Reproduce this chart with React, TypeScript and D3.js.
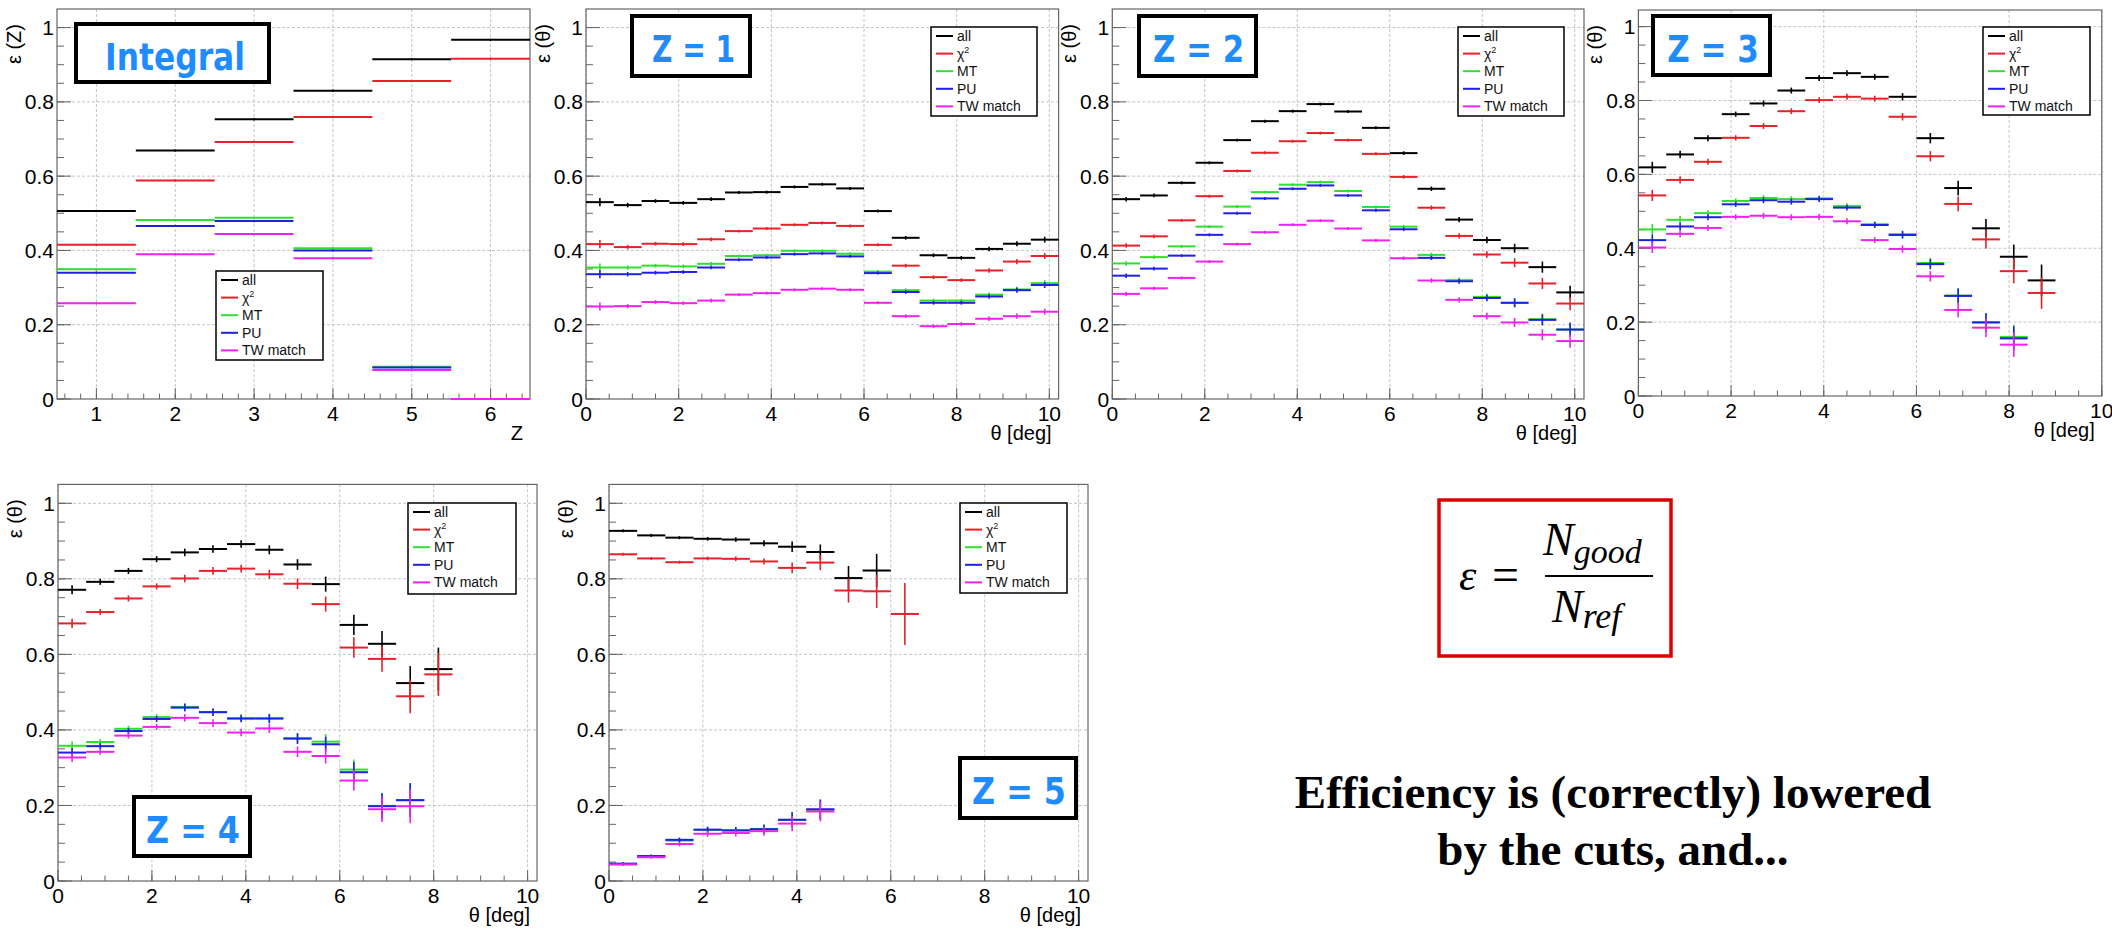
import React from "react";
import * as d3 from "d3";

// ---------------- DATA ----------------
const seriesNames = ["all", "χ2", "MT", "PU", "TW match"];
const seriesColors = ["#000000", "#e8202a", "#2ee02e", "#1f1fe6", "#ee22ee"];

// Integral efficiency vs Z
const integralZ = [1, 2, 3, 4, 5, 6];
const intAll = [0.506, 0.669, 0.753, 0.83, 0.915, 0.967];
const intChi2 = [0.415, 0.588, 0.692, 0.759, 0.856, 0.916];
const intMT = [0.349, 0.482, 0.488, 0.406, 0.087, 0.0];
const intPU = [0.34, 0.466, 0.479, 0.4, 0.085, 0.0];
const intTW = [0.258, 0.39, 0.444, 0.379, 0.078, 0.0];
const intErr = [0.003, 0.003, 0.003, 0.003, 0.003, 0.003];

// theta bin centres [deg] (bin width 0.6)
const thetaBins = [0.3, 0.9, 1.5, 2.1, 2.7, 3.3, 3.9, 4.5, 5.1, 5.7, 6.3, 6.9, 7.5, 8.1, 8.7, 9.3, 9.9];

// Z = 1
const z1All = [0.53, 0.522, 0.533, 0.528, 0.538, 0.556, 0.557, 0.571, 0.578, 0.567, 0.506, 0.434, 0.387, 0.38, 0.404, 0.418, 0.429];
const z1Chi2 = [0.417, 0.409, 0.418, 0.417, 0.43, 0.452, 0.459, 0.469, 0.474, 0.466, 0.415, 0.359, 0.328, 0.32, 0.346, 0.37, 0.385];
const z1MT = [0.354, 0.354, 0.359, 0.357, 0.364, 0.385, 0.387, 0.399, 0.399, 0.391, 0.343, 0.293, 0.265, 0.265, 0.281, 0.295, 0.312];
const z1PU = [0.336, 0.336, 0.34, 0.342, 0.354, 0.375, 0.381, 0.39, 0.392, 0.384, 0.339, 0.288, 0.259, 0.259, 0.276, 0.293, 0.307];
const z1TW = [0.249, 0.25, 0.261, 0.258, 0.265, 0.281, 0.285, 0.294, 0.297, 0.294, 0.259, 0.223, 0.196, 0.202, 0.216, 0.223, 0.235];
const z1Err = [0.011, 0.006, 0.005, 0.005, 0.005, 0.004, 0.004, 0.004, 0.004, 0.004, 0.004, 0.005, 0.005, 0.005, 0.006, 0.007, 0.008];

// Z = 2
const z2All = [0.538, 0.548, 0.582, 0.636, 0.697, 0.748, 0.775, 0.794, 0.774, 0.73, 0.662, 0.566, 0.483, 0.428, 0.406, 0.355, 0.287];
const z2Chi2 = [0.413, 0.438, 0.481, 0.546, 0.614, 0.663, 0.694, 0.716, 0.697, 0.66, 0.598, 0.515, 0.439, 0.389, 0.367, 0.311, 0.257];
const z2MT = [0.365, 0.382, 0.411, 0.464, 0.518, 0.557, 0.577, 0.584, 0.56, 0.517, 0.464, 0.388, 0.32, 0.275, 0.259, 0.215, 0.187];
const z2PU = [0.332, 0.351, 0.386, 0.442, 0.5, 0.54, 0.566, 0.575, 0.548, 0.508, 0.457, 0.38, 0.317, 0.272, 0.259, 0.213, 0.187];
const z2TW = [0.283, 0.298, 0.326, 0.37, 0.417, 0.449, 0.469, 0.48, 0.459, 0.427, 0.379, 0.319, 0.267, 0.223, 0.206, 0.173, 0.156];
const z2Err = [0.006, 0.005, 0.004, 0.004, 0.004, 0.004, 0.004, 0.004, 0.004, 0.004, 0.005, 0.006, 0.007, 0.009, 0.012, 0.015, 0.018];

// Z = 3
const z3All = [0.619, 0.654, 0.698, 0.763, 0.792, 0.827, 0.861, 0.874, 0.864, 0.81, 0.698, 0.563, 0.454, 0.377, 0.313];
const z3Chi2 = [0.543, 0.585, 0.634, 0.699, 0.731, 0.771, 0.801, 0.81, 0.805, 0.756, 0.649, 0.52, 0.424, 0.338, 0.279];
const z3MT = [0.451, 0.477, 0.495, 0.528, 0.536, 0.533, 0.535, 0.514, 0.465, 0.438, 0.36, 0.272, 0.2, 0.16];
const z3PU = [0.422, 0.459, 0.484, 0.519, 0.53, 0.526, 0.533, 0.51, 0.463, 0.436, 0.357, 0.271, 0.199, 0.156];
const z3TW = [0.402, 0.439, 0.455, 0.485, 0.488, 0.484, 0.485, 0.473, 0.422, 0.398, 0.324, 0.233, 0.185, 0.139];
const z3Err = [0.015, 0.01, 0.008, 0.007, 0.008, 0.008, 0.008, 0.008, 0.008, 0.01, 0.014, 0.02, 0.025, 0.033, 0.043];

// Z = 4
const z4All = [0.771, 0.792, 0.821, 0.852, 0.87, 0.879, 0.892, 0.877, 0.838, 0.786, 0.678, 0.628, 0.524, 0.561];
const z4Chi2 = [0.682, 0.712, 0.748, 0.78, 0.801, 0.821, 0.827, 0.812, 0.787, 0.733, 0.618, 0.588, 0.489, 0.547];
const z4MT = [0.358, 0.368, 0.403, 0.434, 0.461, 0.447, 0.431, 0.431, 0.378, 0.369, 0.295, 0.199, 0.214];
const z4PU = [0.34, 0.357, 0.397, 0.429, 0.459, 0.447, 0.43, 0.43, 0.377, 0.362, 0.288, 0.198, 0.214];
const z4TW = [0.327, 0.342, 0.385, 0.408, 0.432, 0.418, 0.393, 0.404, 0.342, 0.331, 0.266, 0.19, 0.198];
const z4Err = [0.012, 0.008, 0.008, 0.008, 0.01, 0.01, 0.01, 0.012, 0.014, 0.02, 0.027, 0.034, 0.045, 0.057];

// Z = 5
const z5All = [0.927, 0.915, 0.909, 0.906, 0.904, 0.894, 0.885, 0.871, 0.802, 0.822];
const z5Chi2 = [0.865, 0.854, 0.844, 0.854, 0.853, 0.846, 0.829, 0.843, 0.769, 0.767, 0.707];
const z5MT = [0.044, 0.066, 0.107, 0.135, 0.134, 0.138, 0.162, 0.188];
const z5PU = [0.046, 0.066, 0.109, 0.136, 0.134, 0.137, 0.162, 0.19];
const z5TW = [0.044, 0.063, 0.098, 0.125, 0.127, 0.132, 0.152, 0.184];
const z5ErrHigh = [0.004, 0.004, 0.004, 0.005, 0.006, 0.008, 0.014, 0.02, 0.032, 0.044, 0.082];
const z5ErrLow = [0.004, 0.004, 0.006, 0.008, 0.009, 0.012, 0.02, 0.026];

// tick labels
const zTicks = [1, 2, 3, 4, 5, 6];
const thetaTicks = [0, 2, 4, 6, 8, 10];
const yTicks = [0, 0.2, 0.4, 0.6, 0.8, 1];

// ---------------- LAYOUT ----------------
const SANS = "'Liberation Sans', Arial, Helvetica, sans-serif";

type Series = { centers: number[]; values: number[]; errors: number[]; halfWidth: number };

type PanelCfg = {
  left: number; right: number; top: number; bottom: number;
  xDomain: [number, number]; yMax: number;
  xMajor: number[]; xMinor: number[];
  xTitle: string; yTitle: string;
  legend: { x: number; y: number; w: number; h: number };
  label: { x: number; y: number; w: number; h: number; text: string; cx: number; base: number; tw: number };
  series: Series[];
};

function minorRange(a: number, b: number, step: number) {
  const n = Math.round((b - a) / step);
  return d3.range(0, n + 1).map((i) => +(a + i * step).toFixed(4));
}

const thetaSeries = (vals: number[][], errs: number[][]): Series[] =>
  vals.map((v, i) => ({ centers: thetaBins.slice(0, v.length), values: v, errors: errs[i], halfWidth: 0.3 }));

const panels: PanelCfg[] = [
  {
    left: 57, right: 530, top: 9, bottom: 399, xDomain: [0.5, 6.5], yMax: 1.05,
    xMajor: zTicks, xMinor: minorRange(0.6, 6.4, 0.2), xTitle: "Z", yTitle: "ε (Z)",
    legend: { x: 216, y: 271, w: 107, h: 89 },
    label: { x: 76, y: 24, w: 193, h: 58, text: "Integral", cx: 175, base: 70, tw: 140 },
    series: [intAll, intChi2, intMT, intPU, intTW].map((v) => ({ centers: integralZ, values: v, errors: intErr, halfWidth: 0.5 })),
  },
  {
    left: 586, right: 1058.6, top: 9, bottom: 399, xDomain: [0, 10.2], yMax: 1.05,
    xMajor: thetaTicks, xMinor: minorRange(0, 10, 0.5), xTitle: "θ [deg]", yTitle: "ε (θ)",
    legend: { x: 931, y: 27, w: 106, h: 89 },
    label: { x: 632, y: 16, w: 118, h: 60, text: "Z = 1", cx: 693.6, base: 62, tw: 83 },
    series: thetaSeries([z1All, z1Chi2, z1MT, z1PU, z1TW], [z1Err, z1Err, z1Err, z1Err, z1Err]),
  },
  {
    left: 1112.3, right: 1584, top: 9, bottom: 399, xDomain: [0, 10.2], yMax: 1.05,
    xMajor: thetaTicks, xMinor: minorRange(0, 10, 0.5), xTitle: "θ [deg]", yTitle: "ε (θ)",
    legend: { x: 1458, y: 27, w: 106, h: 89 },
    label: { x: 1139, y: 16, w: 117, h: 60, text: "Z = 2", cx: 1198.6, base: 62, tw: 91 },
    series: thetaSeries([z2All, z2Chi2, z2MT, z2PU, z2TW], [z2Err, z2Err, z2Err, z2Err, z2Err]),
  },
  {
    left: 1638.4, right: 2101.8, top: 10, bottom: 396, xDomain: [0, 10], yMax: 1.045,
    xMajor: thetaTicks, xMinor: minorRange(0, 10, 0.5), xTitle: "θ [deg]", yTitle: "ε (θ)",
    legend: { x: 1983, y: 27, w: 107, h: 88 },
    label: { x: 1653, y: 16, w: 117, h: 59, text: "Z = 3", cx: 1713, base: 61.7, tw: 91.6 },
    series: thetaSeries([z3All, z3Chi2, z3MT, z3PU, z3TW], [z3Err, z3Err, z3Err, z3Err, z3Err]),
  },
  {
    left: 58, right: 537, top: 484.4, bottom: 881, xDomain: [0, 10.2], yMax: 1.05,
    xMajor: thetaTicks, xMinor: minorRange(0, 10, 0.5), xTitle: "θ [deg]", yTitle: "ε (θ)",
    legend: { x: 408, y: 503, w: 108, h: 91 },
    label: { x: 134, y: 797, w: 116, h: 59, text: "Z = 4", cx: 193, base: 843, tw: 94 },
    series: thetaSeries([z4All, z4Chi2, z4MT, z4PU, z4TW], [z4Err, z4Err, z4Err, z4Err, z4Err]),
  },
  {
    left: 609, right: 1088, top: 484.4, bottom: 881, xDomain: [0, 10.2], yMax: 1.05,
    xMajor: thetaTicks, xMinor: minorRange(0, 10, 0.5), xTitle: "θ [deg]", yTitle: "ε (θ)",
    legend: { x: 960, y: 503, w: 107, h: 90 },
    label: { x: 960, y: 758, w: 116, h: 60, text: "Z = 5", cx: 1019, base: 804, tw: 94 },
    series: thetaSeries([z5All, z5Chi2, z5MT, z5PU, z5TW], [z5ErrHigh, z5ErrHigh, z5ErrLow, z5ErrLow, z5ErrLow]),
  },
];

function Legend({ x, y, w, h }: { x: number; y: number; w: number; h: number }) {
  const step = 17.6;
  return (
    <g>
      <rect x={x} y={y} width={w} height={h} fill="#fff" stroke="#000" strokeWidth={1.5} />
      {seriesNames.map((name, i) => {
        const cy = y + 9 + i * step;
        return (
          <g key={name}>
            <line x1={x + 5} x2={x + 22} y1={cy} y2={cy} stroke={seriesColors[i]} strokeWidth={2} />
            <text x={x + 26} y={cy + 5} fontFamily={SANS} fontSize={14} fill="#111">
              {name === "χ2" ? (
                <>
                  χ<tspan dy={-6} fontSize={9}>2</tspan>
                </>
              ) : (
                name
              )}
            </text>
          </g>
        );
      })}
    </g>
  );
}

function Panel({ cfg }: { cfg: PanelCfg }) {
  const x = d3.scaleLinear().domain(cfg.xDomain).range([cfg.left, cfg.right]);
  const y = d3.scaleLinear().domain([0, cfg.yMax]).range([cfg.bottom, cfg.top]);
  const yMinor = minorRange(0, 1, 0.05);
  const axisColor = "#666";
  const gridColor = "#c4c4c4";
  const fmt = (v: number) => (v === 0 || v === 1 ? String(v) : d3.format(".1f")(v));
  return (
    <g>
      {/* grid */}
      {cfg.xMajor.map((t) => (
        <line key={"gx" + t} x1={x(t)} x2={x(t)} y1={cfg.top} y2={cfg.bottom} stroke={gridColor} strokeDasharray="3,2" strokeWidth={1} />
      ))}
      {yTicks.filter((t) => t > 0).map((t) => (
        <line key={"gy" + t} x1={cfg.left} x2={cfg.right} y1={y(t)} y2={y(t)} stroke={gridColor} strokeDasharray="3,2" strokeWidth={1} />
      ))}
      {/* frame */}
      <rect x={cfg.left} y={cfg.top} width={cfg.right - cfg.left} height={cfg.bottom - cfg.top} fill="none" stroke={axisColor} strokeWidth={1.2} />
      {/* ticks */}
      {cfg.xMinor.map((t) => (
        <line key={"xm" + t} x1={x(t)} x2={x(t)} y1={cfg.bottom} y2={cfg.bottom - 5.5} stroke={axisColor} strokeWidth={1} />
      ))}
      {cfg.xMajor.map((t) => (
        <line key={"xM" + t} x1={x(t)} x2={x(t)} y1={cfg.bottom} y2={cfg.bottom - 11} stroke={axisColor} strokeWidth={1} />
      ))}
      {yMinor.map((t) => (
        <line key={"ym" + t} x1={cfg.left} x2={cfg.left + 7} y1={y(t)} y2={y(t)} stroke={axisColor} strokeWidth={1} />
      ))}
      {yTicks.map((t) => (
        <line key={"yM" + t} x1={cfg.left} x2={cfg.left + 14} y1={y(t)} y2={y(t)} stroke={axisColor} strokeWidth={1} />
      ))}
      {/* tick labels */}
      {cfg.xMajor.map((t) => (
        <text key={"xl" + t} x={x(t)} y={cfg.bottom + 22} textAnchor="middle" fontFamily={SANS} fontSize={21} fill="#000">
          {t}
        </text>
      ))}
      {yTicks.map((t) => (
        <text key={"yl" + t} x={cfg.left - 3} y={y(t) + 7.5} textAnchor="end" fontFamily={SANS} fontSize={21} fill="#000">
          {fmt(t)}
        </text>
      ))}
      {/* axis titles */}
      <text x={cfg.right - 7} y={cfg.bottom + 41} textAnchor="end" fontFamily={SANS} fontSize={20} fill="#000">
        {cfg.xTitle}
      </text>
      <text
        transform={`translate(${cfg.left - 36},${cfg.top + 15}) rotate(-90)`}
        textAnchor="end"
        fontFamily={SANS}
        fontSize={20}
        fill="#000"
      >
        {cfg.yTitle}
      </text>
      {/* data */}
      {cfg.series.map((s, si) => (
        <g key={"s" + si} stroke={seriesColors[si]}>
          {s.values.map((v, i) => {
            const c = s.centers[i];
            const e = s.errors[i] ?? 0;
            return (
              <g key={i}>
                <line x1={x(c - s.halfWidth)} x2={x(c + s.halfWidth)} y1={y(v)} y2={y(v)} strokeWidth={2} />
                <line x1={x(c)} x2={x(c)} y1={y(Math.max(0, v - e))} y2={y(v + e)} strokeWidth={1.6} />
              </g>
            );
          })}
        </g>
      ))}
      <Legend {...cfg.legend} />
      {/* label box */}
      <rect x={cfg.label.x} y={cfg.label.y} width={cfg.label.w} height={cfg.label.h} fill="#fff" stroke="#000" strokeWidth={4} />
      <text
        x={cfg.label.cx}
        y={cfg.label.base}
        textAnchor="middle"
        fontFamily="'DejaVu Sans', Verdana, sans-serif"
        fontWeight="bold"
        fontSize={37}
        fill="#1e8cff"
        textLength={cfg.label.tw}
        lengthAdjust="spacingAndGlyphs"
      >
        {cfg.label.text}
      </text>
    </g>
  );
}

function Formula() {
  const serif = "'Liberation Serif', 'DejaVu Serif', serif";
  return (
    <g>
      <rect x={1439} y={500} width={232} height={156} fill="#fff" stroke="#dd0000" strokeWidth={3.5} />
      <text x={1459} y={590} fontFamily={serif} fontStyle="italic" fontSize={44} fill="#000">ε</text>
      <text x={1492} y={591} fontFamily={serif} fontSize={48} fill="#000">=</text>
      <line x1={1545} x2={1653} y1={576} y2={576} stroke="#000" strokeWidth={1.8} />
      <text x={1543} y={555} fontFamily={serif} fontStyle="italic" fontSize={46} fill="#000">
        N<tspan dy={8} fontSize={34}>good</tspan>
      </text>
      <text x={1552} y={622} fontFamily={serif} fontStyle="italic" fontSize={46} fill="#000">
        N<tspan dy={6} fontSize={36}>ref</tspan>
      </text>
    </g>
  );
}

export default function App() {
  return (
    <svg
      width={2112}
      height={929}
      viewBox="0 0 2112 929"
      style={{ position: "absolute", left: 0, top: 0, display: "block", background: "#fff" }}
    >
      <rect x={0} y={0} width={2112} height={929} fill="#fff" />
      {panels.map((p, i) => (
        <Panel key={i} cfg={p} />
      ))}
      <Formula />
      <text x={1613} y={808} textAnchor="middle" fontFamily="'Liberation Serif', 'Times New Roman', serif" fontWeight="bold" fontSize={47} fill="#000">
        Efficiency is (correctly) lowered
      </text>
      <text x={1613} y={865} textAnchor="middle" fontFamily="'Liberation Serif', 'Times New Roman', serif" fontWeight="bold" fontSize={47} fill="#000">
        by the cuts, and...
      </text>
    </svg>
  );
}
